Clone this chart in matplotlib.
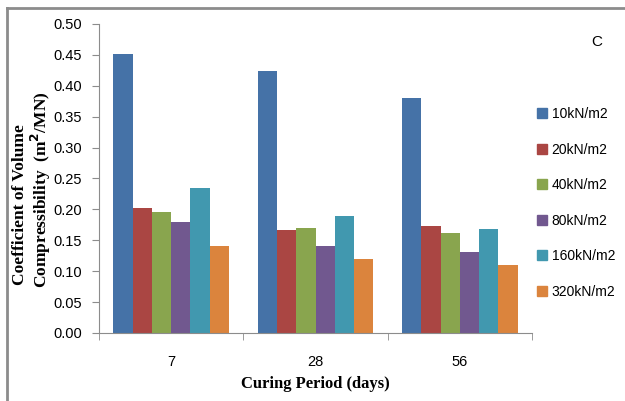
import matplotlib
matplotlib.use("Agg")
import matplotlib.pyplot as plt
from matplotlib.lines import Line2D
import numpy as np

# data
periods = ["7", "28", "56"]
loads = ["10kN/m2", "20kN/m2", "40kN/m2", "80kN/m2", "160kN/m2", "320kN/m2"]
mv_10 = [0.452, 0.424, 0.380]
mv_20 = [0.203, 0.167, 0.173]
mv_40 = [0.195, 0.170, 0.162]
mv_80 = [0.179, 0.141, 0.131]
mv_160 = [0.235, 0.190, 0.168]
mv_320 = [0.140, 0.119, 0.110]
series = [mv_10, mv_20, mv_40, mv_80, mv_160, mv_320]
colors = ["#4572A7", "#AA4643", "#89A54E", "#71588F", "#4198AF", "#DB843D"]

sans = ["Liberation Sans", "DejaVu Sans"]
serif = ["Liberation Serif", "DejaVu Serif"]
gray = "#8c8c8c"


def barChart(path):
    fig = plt.figure(figsize=(6.25, 4.01), dpi=100)
    ax = fig.add_axes([0.1584, 0.1696, 0.6928, 0.7706])

    x = np.arange(len(periods))
    w = 0.8 / len(series)
    for i, vals in enumerate(series):
        ax.bar(x - 0.4 + w * (i + 0.5), vals, width=w, color=colors[i], label=loads[i])

    ax.set_xlim(-0.5, len(periods) - 0.5)
    ax.set_ylim(0, 0.5)
    yt = np.arange(0, 0.501, 0.05)
    ax.set_yticks(yt)
    ax.set_yticklabels(["%.2f" % v for v in yt], family=sans, fontsize=10.5)
    ax.set_xticks(x)
    ax.set_xticklabels(periods, family=sans, fontsize=10.5)
    ax.set_xticks(np.arange(-0.5, len(periods)), minor=True)
    ax.tick_params(axis="x", which="major", length=0, pad=16)
    ax.tick_params(axis="x", which="minor", length=5, color=gray, direction="out")
    ax.tick_params(axis="y", length=5, color=gray, direction="out", pad=7)

    for s in ["top", "right"]:
        ax.spines[s].set_visible(False)
    for s in ["left", "bottom"]:
        ax.spines[s].set_color(gray)

    ax.set_xlabel("Curing Period (days)", family=serif, fontweight="bold",
                  fontsize=12, labelpad=5)

    # two-line y label, drawn as separate rotated texts
    fig.text(20 / 625, 1 - 205 / 401, "Coefficient of Volume", family=serif,
             fontweight="bold", fontsize=12.5, rotation=90, ha="center", va="center")
    fig.text(41 / 625, 1 - 190 / 401, "Compressibility  (m$^\\mathbf{2}$/MN)", family=serif,
             fontweight="bold", fontsize=12.5, rotation=90, ha="center", va="center")

    handles = [Line2D([], [], marker="s", linestyle="", markersize=6.5,
                      color=c, markeredgecolor=c) for c in colors]
    fig.legend(handles, loads, loc="upper left", bbox_to_anchor=(0.836, 0.764),
               frameon=False, prop={"family": sans, "size": 10},
               handletextpad=0.2, labelspacing=1.55, handlelength=1.0)

    fig.text(0.955, 0.895, "C", family=sans, fontsize=11, ha="center", va="center")

    # border lines at top and left of the frame
    fig.add_artist(Line2D([0.0112, 1.0], [0.980, 0.980], color=gray, lw=2))
    fig.add_artist(Line2D([0.0112, 0.0112], [0.0, 0.980], color=gray, lw=2))

    plt.savefig(path, dpi=100)


def main():
    barChart("out.png")


if __name__ == '__main__':
    main()
